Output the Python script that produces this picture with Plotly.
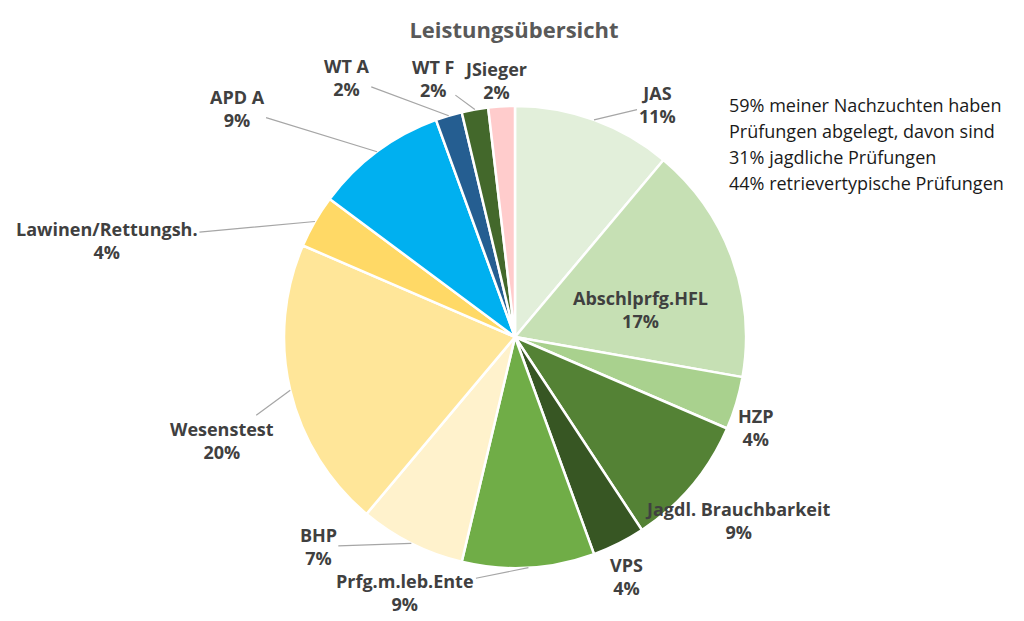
import math

import plotly.graph_objs as go

# Leistungsübersicht - Anzahl Prüfungen je Art
labels = ['JAS', 'Abschlprfg.HFL', 'HZP', 'Jagdl. Brauchbarkeit', 'VPS', 'Prfg.m.leb.Ente', 'BHP',
          'Wesenstest', 'Lawinen/Rettungsh.', 'APD A', 'WT A', 'WT F', 'JSieger']
counts = [6, 9, 2, 5, 2, 5, 4, 11, 2, 5, 1, 1, 1]
colors = ['#E2EFDA', '#C6E0B4', '#A9D18E', '#548235', '#375623', '#70AD47', '#FFF2CC',
          '#FFE699', '#FFD966', '#00B0F0', '#255E91', '#43682B', '#FFCCCC']

note_lines = ['59% meiner Nachzuchten haben', 'Prüfungen abgelegt, davon sind',
              '31% jagdliche Prüfungen', '44% retrievertypische Prüfungen']

W, H = 1024, 621
cx, cy, r = 515, 337, 231

# label offset from slice edge (px, y down), and whether a leader line is drawn
label_offsets = [(63, -15, True), (-92, 52, False), (20, 24, False), (46, 35, False), (8, 33, False),
                 (-123, 25, True), (-93, 3, True), (-68, 50, True), (-208, 19, True), (-140, -43, True),
                 (-102, -38, True), (-42, -31, True), (-6, -26, False)]

fig = go.Figure(
    go.Pie(
        labels=labels,
        values=counts,
        sort=False,
        direction='clockwise',
        rotation=0,
        marker=dict(colors=colors, line=dict(color='white', width=2.5)),
        textinfo='none',
        hoverinfo='label+percent',
        showlegend=False,
        domain=dict(x=[(cx - r) / W, (cx + r) / W], y=[(H - cy - r) / H, (H - cy + r) / H])
    )
)

total = sum(counts)
annotations = []
cum = 0
for name, val, (dx, dy, line) in zip(labels, counts, label_offsets):
    mid = (cum + val / 2) / total * 2 * math.pi
    cum += val
    ex = cx + r * math.sin(mid)
    ey = cy - r * math.cos(mid)
    pct = round(val / total * 100)
    ann = dict(
        text='<b>%s<br>%d%%</b>' % (name, pct),
        x=ex / W, y=1 - ey / H, xref='paper', yref='paper',
        font=dict(family='Open Sans', size=18, color='#404040'),
        align='center',
    )
    if line:
        ann.update(showarrow=True, arrowhead=0, arrowwidth=1.2, arrowcolor='#A6A6A6',
                   ax=dx, ay=dy, standoff=0)
    else:
        ann.update(showarrow=False, xanchor='center', yanchor='middle', xshift=dx, yshift=-dy)
    annotations.append(ann)

for i, txt in enumerate(note_lines):
    annotations.append(dict(
        text=txt, x=727 / W, y=1 - (105 + 26 * i) / H, xref='paper', yref='paper',
        xanchor='left', yanchor='middle', align='left', showarrow=False,
        font=dict(family='Open Sans', size=18, color='#1a1a1a'),
    ))

fig.update_layout(
    width=W, height=H,
    title=dict(text='<b>Leistungsübersicht</b>', x=514 / W, xanchor='center', y=1 - 30 / H, yanchor='middle',
               font=dict(family='Open Sans', size=22, color='#595959')),
    paper_bgcolor='white',
    margin=dict(t=0, l=0, r=0, b=0),
    annotations=annotations,
)

fig.write_html('out.html', config={'displayModeBar': False}, post_script="document.body.style.margin='0';")
